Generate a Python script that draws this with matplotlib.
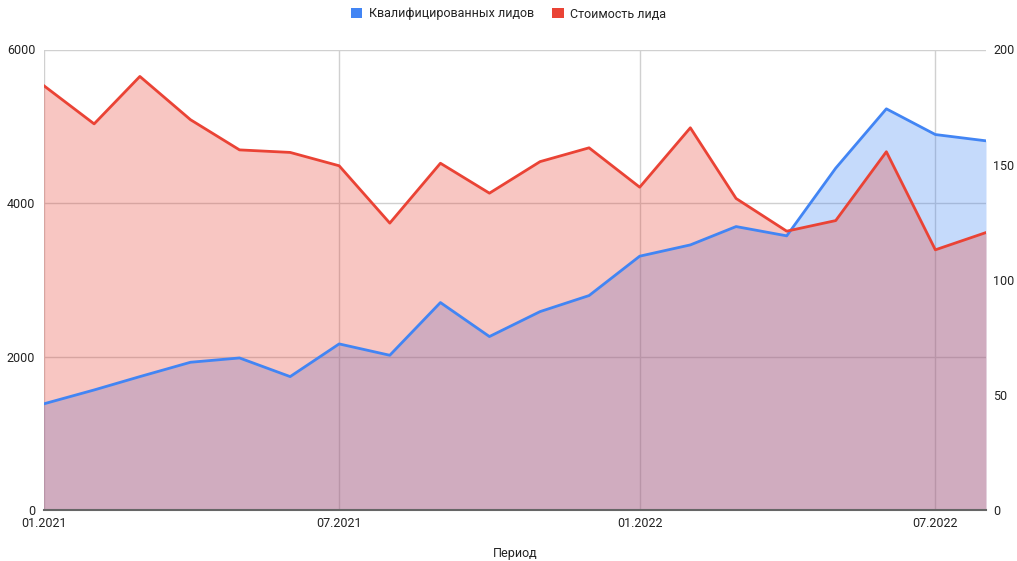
import matplotlib
matplotlib.use("Agg")
import matplotlib.pyplot as plt
import matplotlib.dates as mdates
from matplotlib.patches import Patch
import datetime as dt

plt.rcParams['font.family'] = ['Roboto', 'DejaVu Sans']

months = ["01.2021", "02.2021", "03.2021", "04.2021", "05.2021", "06.2021",
          "07.2021", "08.2021", "09.2021", "10.2021", "11.2021", "12.2021",
          "01.2022", "02.2022", "03.2022", "04.2022", "05.2022", "06.2022",
          "07.2022", "08.2022"]
qualified_leads = [1382, 1564, 1738, 1925, 1981, 1738, 2164, 2016, 2703, 2260,
                   2585, 2794, 3307, 3454, 3693, 3572, 4454, 5227, 4892, 4810]
lead_cost = [184.4, 167.7, 188.3, 169.5, 156.4, 155.3, 149.5, 124.6, 150.6, 137.6,
             151.3, 157.3, 140.2, 166.0, 135.3, 121.1, 125.7, 155.6, 113.0, 120.5]
xtick_labels = ["01.2021", "07.2021", "01.2022", "07.2022"]
series_names = ["Квалифицированных лидов", "Стоимость лида"]
x_title = "Период"

dates = [dt.datetime.strptime(m, "%m.%Y") for m in months]
xticks = [dt.datetime.strptime(m, "%m.%Y") for m in xtick_labels]

BLUE = "#4285F4"
RED = "#EA4335"
GRID = "#d0d0d0"
TXT = "#222222"

fig = plt.figure(figsize=(10.17, 5.61), dpi=100)
ax = fig.add_axes([43.5/1017, 1 - 510/561, (986 - 43.5)/1017, (510 - 49.5)/561])
ax2 = ax.twinx()

ax.set_ylim(0, 6000)
ax.set_yticks([0, 2000, 4000, 6000])
ax2.set_ylim(0, 200)
ax2.set_yticks([0, 50, 100, 150, 200])
ax.set_xlim(dates[0], dates[-1])
ax.set_xticks(xticks)
ax.set_xticklabels(xtick_labels)

# fills
ax.fill_between(dates, qualified_leads, 0, color=BLUE, alpha=0.3, linewidth=0, zorder=2)
ax2.fill_between(dates, lead_cost, 0, color=RED, alpha=0.3, linewidth=0, zorder=2)
# lines on top of both fills (blue drawn on ax2 using ax's data transform)
ax2.plot(dates, qualified_leads, color=BLUE, linewidth=2, zorder=3, transform=ax.transData)
ax2.plot(dates, lead_cost, color=RED, linewidth=2, zorder=4)
ax2.set_ylim(0, 200)

for a in (ax, ax2):
    for s in a.spines.values():
        s.set_visible(False)
    a.tick_params(length=0, labelsize=9, colors=TXT)

ax.tick_params(axis='y', pad=6)
ax2.tick_params(axis='y', pad=5)
ax.tick_params(axis='x', pad=5)

ax.grid(True, color=GRID, linewidth=1, zorder=0)
ax.set_axisbelow(True)
ax2.axhline(0, color="#666666", linewidth=1.5, zorder=5, clip_on=False)

ax.set_zorder(ax2.get_zorder() - 1)
ax2.patch.set_visible(False)

fig.text(515/1017, 1 - 553/561, x_title, ha='center', va='center', fontsize=9, color=TXT)

handles = [Patch(facecolor=BLUE, edgecolor='none'), Patch(facecolor=RED, edgecolor='none')]
fig.legend(handles, series_names, loc='center', bbox_to_anchor=(0.5, 1 - 14/561), ncol=2,
           frameon=False, fontsize=9, handlelength=0.9, handleheight=0.9,
           handletextpad=0.5, columnspacing=1.5, labelcolor=TXT)

fig.savefig("out.png", dpi=100)
